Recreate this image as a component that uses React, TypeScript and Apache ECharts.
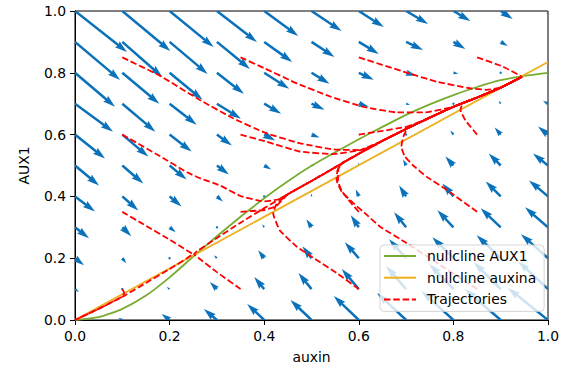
import React, { useEffect, useRef } from "react";
import * as echarts from "echarts";

const FONT = "'DejaVu Sans', 'Liberation Sans', sans-serif";

// ---- Vector field (quiver) grid ----
const auxinGrid = [0, 0.1, 0.2, 0.3, 0.4, 0.5, 0.6, 0.7, 0.8, 0.9, 1.0];
const aux1Grid = [1.0, 0.9, 0.8, 0.7, 0.6, 0.5, 0.4, 0.3, 0.2, 0.1, 0.0];

// quiver components (rows: AUX1 = 1.0 ... 0.0, cols: auxin = 0.0 ... 1.0)
// U: towards +auxin, V: towards +AUX1 (screen-proportional quiver units)
const quiverU = [
  [52, 48, 44, 40, 34, 30, 25, 22, 17, 12, 8],
  [45, 40, 38, 33, 28, 23, 20, 17, 12, 7, 4],
  [40, 37, 33, 27, 25, 18, 15, 10, 5, 2, -1],
  [38, 33, 27, 24, 17, 13, 10, 4, 1, -2, -5],
  [30, 26, 22, 15, 11, 8, 3, 0, -3, -6, -10],
  [24, 21, 17, 12, 7, 3, 0, -3, -8, -12, -15],
  [20, 16, 12, 6, 2, 0, -3, -7, -11, -15, -19],
  [14, 9, 6, 1, -2, -5, -8, -12, -16, -20, -23],
  [9, 4, 1, -3, -6, -9, -14, -17, -21, -24, -27],
  [4, 1, -3, -7, -10, -13, -17, -20, -24, -27, -30],
  [0, -4, -8, -13, -17, -21, -25, -29, -32, -36, -40],
];
const quiverV = [
  [-41, -40, -36, -31, -25, -20, -16, -13, -10, -8, -6],
  [-38, -35, -32, -27, -20, -15, -12, -8, -7, -4, -4],
  [-34, -31, -27, -21, -16, -11, -7, -3, -1, -1, 0],
  [-28, -28, -21, -15, -10, -6, -3, -1, 1, 3, 3],
  [-24, -22, -17, -11, -6, -3, 0, 2, 4, 7, 8],
  [-20, -18, -14, -9, -4, 0, 3, 6, 9, 12, 12],
  [-15, -14, -10, -5, 0, 3, 7, 11, 13, 15, 16],
  [-11, -9, -5, -1, 3, 8, 12, 15, 17, 19, 20],
  [-7, -5, -1, 3, 8, 12, 16, 19, 21, 23, 24],
  [-3, -2, 2, 7, 12, 16, 20, 23, 25, 27, 28],
  [0, 2, 6, 11, 16, 20, 24, 27, 29, 31, 32],
];

// ---- Nullclines ----
const nullclineAUX1X = [0, 0.05, 0.1, 0.15, 0.2, 0.25, 0.3, 0.35, 0.4, 0.45, 0.5, 0.55, 0.6, 0.65, 0.7, 0.75, 0.8, 0.85, 0.9, 0.95, 1.0];
const nullclineAUX1Y = [0, 0.009, 0.036, 0.079, 0.138, 0.205, 0.271, 0.334, 0.394, 0.449, 0.499, 0.543, 0.585, 0.625, 0.664, 0.698, 0.728, 0.754, 0.776, 0.79, 0.8];
const nullclineAuxinaX = [0, 1.0];
const nullclineAuxinaY = [0, 0.835];

// ---- Trajectories ----
const manifoldUpper = [[0.25, 0.215], [0.3, 0.265], [0.35, 0.315], [0.4, 0.362], [0.45, 0.407], [0.5, 0.45], [0.55, 0.494], [0.6, 0.538], [0.65, 0.58], [0.7, 0.618], [0.75, 0.655], [0.8, 0.69], [0.85, 0.72], [0.9, 0.752], [0.945, 0.787]];
const manifoldLower = [[0.25, 0.215], [0.2, 0.165], [0.15, 0.12], [0.1, 0.075], [0.05, 0.036], [0, 0]];

const traj01 = [[0.1, 0.1], [0.104, 0.088], [0.1, 0.076]];
const traj02 = [[0.1, 0.35], [0.15, 0.305], [0.2, 0.26], [0.236, 0.226], [0.248, 0.214]];
const traj03 = [[0.35, 0.1], [0.3, 0.155], [0.262, 0.2], [0.252, 0.213]];
const traj04 = [[0.1, 0.6], [0.18, 0.53], [0.237, 0.478], [0.264, 0.459], [0.307, 0.435], [0.349, 0.402], [0.398, 0.384], [0.43, 0.39]];
const traj05 = [[0.35, 0.35], [0.4, 0.356], [0.425, 0.368]];
const traj06 = [[0.6, 0.1], [0.555, 0.15], [0.511, 0.194], [0.469, 0.237], [0.433, 0.29], [0.419, 0.345], [0.426, 0.375]];
const traj07 = [[0.85, 0.1], [0.775, 0.175], [0.7, 0.25], [0.645, 0.302], [0.617, 0.34], [0.588, 0.379], [0.564, 0.415], [0.553, 0.453], [0.555, 0.485], [0.565, 0.508]];
const traj08 = [[0.6, 0.35], [0.583, 0.38], [0.565, 0.415], [0.556, 0.45], [0.557, 0.49], [0.567, 0.51]];
const traj09 = [[0.85, 0.35], [0.786, 0.421], [0.743, 0.464], [0.715, 0.5], [0.697, 0.53], [0.69, 0.56], [0.694, 0.593], [0.705, 0.625]];
const traj10 = [[0.85, 0.6], [0.825, 0.647], [0.815, 0.68], [0.82, 0.702]];
const traj11 = [[0.1, 0.85], [0.18, 0.79], [0.264, 0.712], [0.335, 0.652], [0.405, 0.604], [0.476, 0.572], [0.546, 0.552], [0.603, 0.55], [0.64, 0.57]];
const traj12 = [[0.35, 0.6], [0.405, 0.577], [0.476, 0.545], [0.546, 0.537], [0.603, 0.55]];
const traj13 = [[0.35, 0.85], [0.4, 0.815], [0.47, 0.765], [0.54, 0.723], [0.61, 0.69], [0.68, 0.672], [0.74, 0.672], [0.8, 0.69]];
const traj14 = [[0.6, 0.6], [0.65, 0.612], [0.7, 0.625], [0.73, 0.64]];
const traj15 = [[0.6, 0.85], [0.694, 0.804], [0.765, 0.771], [0.835, 0.75], [0.87, 0.745]];
const traj16 = [[0.85, 0.85], [0.905, 0.82], [0.945, 0.787]];

const trajectoryList = [
  { points: traj01, joins: "lower" },
  { points: traj02, joins: "lower" },
  { points: traj03, joins: "upper" },
  { points: traj04, joins: "upper" },
  { points: traj05, joins: "upper" },
  { points: traj06, joins: "upper" },
  { points: traj07, joins: "upper" },
  { points: traj08, joins: "upper" },
  { points: traj09, joins: "upper" },
  { points: traj10, joins: "upper" },
  { points: traj11, joins: "upper" },
  { points: traj12, joins: "upper" },
  { points: traj13, joins: "upper" },
  { points: traj14, joins: "upper" },
  { points: traj15, joins: "upper" },
  { points: traj16, joins: "none" },
];

const xTicks = [0, 0.2, 0.4, 0.6, 0.8, 1.0];
const yTicks = [0, 0.2, 0.4, 0.6, 0.8, 1.0];

const COLORS = {
  arrow: "#0a72ba",
  aux1: "#77AC30",
  auxina: "#EDB120",
  traj: "#FF0000",
};

function completePath(points: number[][], joins: string) {
  const last = points[points.length - 1];
  if (joins === "upper") return points.concat(manifoldUpper.filter((p) => p[0] > last[0] + 0.005));
  if (joins === "lower") return points.concat(manifoldLower.filter((p) => p[0] < last[0] - 0.005));
  return points;
}

export default function App() {
  const ref = useRef<HTMLDivElement>(null);

  useEffect(() => {
    if (!ref.current) return;
    const chart = echarts.init(ref.current, null, { renderer: "svg" });

    const quiverData: number[][] = [];
    aux1Grid.forEach((y, r) => {
      auxinGrid.forEach((x, c) => {
        quiverData.push([x, y, quiverU[r][c], quiverV[r][c]]);
      });
    });

    const SHAFT = 2.5;
    const QUIVER_SCALE = 1;
    const renderArrow = (_params: any, api: any) => {
      const x = api.value(0);
      const y = api.value(1);
      const u = api.value(2);
      const v = api.value(3);
      const p = api.coord([x, y]);
      const dx = u * QUIVER_SCALE;
      const dy = -v * QUIVER_SCALE;
      const L = Math.hypot(dx, dy);
      if (L < 0.01) return { type: "group", children: [] };
      const c = dx / L;
      const s = dy / L;
      let local: number[][];
      if (L < SHAFT) {
        const r = SHAFT / 2;
        local = [0, 1, 2, 3, 4, 5].map((k) => [r * Math.cos((k * Math.PI) / 3), r * Math.sin((k * Math.PI) / 3)]);
      } else {
        const hl = 5 * SHAFT;
        const hal = 4.5 * SHAFT;
        const hw = 3 * SHAFT;
        const Lf = Math.max(L, hl);
        const k = L < hl ? L / hl : 1;
        local = [
          [0, -SHAFT / 2],
          [Lf - hal, -SHAFT / 2],
          [Lf - hl, -hw / 2],
          [Lf, 0],
          [Lf - hl, hw / 2],
          [Lf - hal, SHAFT / 2],
          [0, SHAFT / 2],
        ].map(([a, b]) => [a * k, b * k]);
      }
      const pts = local.map(([a, b]) => [p[0] + a * c - b * s, p[1] + a * s + b * c]);
      return {
        type: "polygon",
        shape: { points: pts },
        style: { fill: COLORS.arrow, stroke: null },
      };
    };

    const trajSeries = trajectoryList.map((t) => ({
      type: "line",
      name: "Trajectories",
      data: completePath(t.points, t.joins),
      symbol: "none",
      showSymbol: false,
      smooth: 0.12,
      clip: true,
      z: 4,
      itemStyle: { color: COLORS.traj },
      lineStyle: { color: COLORS.traj, width: 1.8, type: [6.5, 2.8] },
    }));

    const option: any = {
      animation: false,
      backgroundColor: "#ffffff",
      textStyle: { fontFamily: FONT },
      grid: {
        left: 75,
        top: 11,
        width: 473,
        height: 309,
        show: true,
        borderColor: "#000000",
        borderWidth: 1,
        backgroundColor: "transparent",
      },
      xAxis: {
        type: "value",
        min: 0,
        max: 1,
        interval: 0.2,
        name: "auxin",
        nameLocation: "middle",
        nameGap: 30,
        nameTextStyle: { fontFamily: FONT, fontSize: 13.9, color: "#000" },
        axisLine: { show: true, onZero: false, lineStyle: { color: "#000", width: 1 } },
        axisTick: { show: true, inside: false, length: 5, lineStyle: { color: "#000" }, customValues: xTicks },
        axisLabel: {
          show: true,
          margin: 9,
          fontFamily: FONT,
          fontSize: 13.9,
          color: "#000",
          customValues: xTicks,
          formatter: (v: number) => v.toFixed(1),
        },
        splitLine: { show: false },
      },
      yAxis: {
        type: "value",
        min: 0,
        max: 1,
        interval: 0.2,
        name: "AUX1",
        nameLocation: "middle",
        nameGap: 44,
        nameRotate: 90,
        nameTextStyle: { fontFamily: FONT, fontSize: 13.9, color: "#000" },
        axisLine: { show: true, onZero: false, lineStyle: { color: "#000", width: 1 } },
        axisTick: { show: true, inside: false, length: 5, lineStyle: { color: "#000" }, customValues: yTicks },
        axisLabel: {
          show: true,
          margin: 9,
          fontFamily: FONT,
          fontSize: 13.9,
          color: "#000",
          customValues: yTicks,
          formatter: (v: number) => v.toFixed(1),
        },
        splitLine: { show: false },
      },
      legend: {
        orient: "vertical",
        left: 380,
        top: 245,
        data: ["nullcline AUX1", "nullcline auxina", "Trajectories"],
        selectedMode: false,
        itemWidth: 32,
        itemHeight: 14,
        itemGap: 7.7,
        padding: [4, 8, 5, 3],
        backgroundColor: "rgba(255,255,255,0.8)",
        borderColor: "rgba(204,204,204,0.8)",
        borderWidth: 1,
        borderRadius: 4,
        itemStyle: { opacity: 0 },
        textStyle: { fontFamily: FONT, fontSize: 13.9, color: "#000", padding: [0, 0, 0, 6] },
        z: 20,
      },
      series: [
        {
          type: "custom",
          coordinateSystem: "cartesian2d",
          data: quiverData,
          encode: { x: 0, y: 1 },
          renderItem: renderArrow,
          clip: true,
          silent: true,
          z: 1,
        },
        {
          type: "line",
          name: "nullcline AUX1",
          data: nullclineAUX1X.map((x, i) => [x, nullclineAUX1Y[i]]),
          symbol: "none",
          showSymbol: false,
          smooth: 0.2,
          z: 3,
          itemStyle: { color: COLORS.aux1 },
          lineStyle: { color: COLORS.aux1, width: 1.8 },
        },
        {
          type: "line",
          name: "nullcline auxina",
          data: nullclineAuxinaX.map((x, i) => [x, nullclineAuxinaY[i]]),
          symbol: "none",
          showSymbol: false,
          z: 3,
          itemStyle: { color: COLORS.auxina },
          lineStyle: { color: COLORS.auxina, width: 1.8 },
        },
        ...trajSeries,
      ],
    };

    chart.setOption(option);
    return () => {
      chart.dispose();
    };
  }, []);

  return (
    <div
      ref={ref}
      style={{ position: "fixed", left: 0, top: 0, width: 580, height: 379, background: "#fff" }}
    />
  );
}
